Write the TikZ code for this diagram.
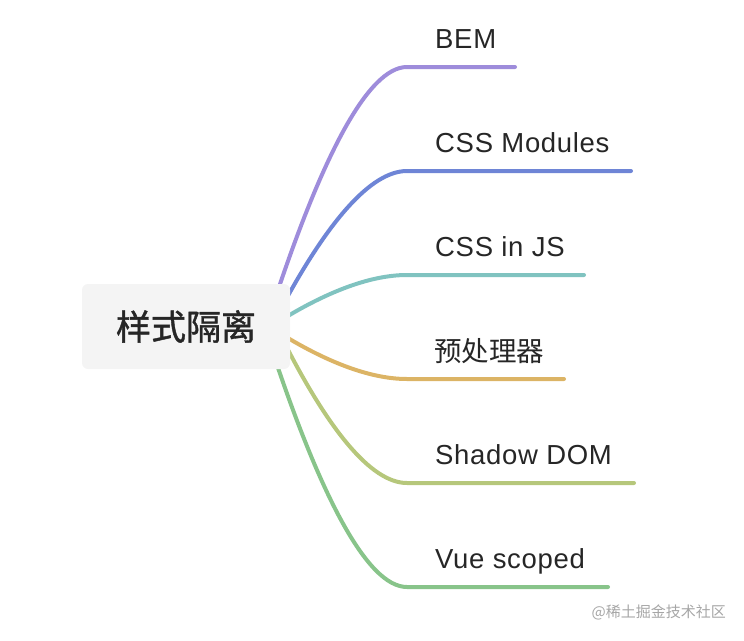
\documentclass[tikz,border=0pt]{standalone}
\usepackage{fontspec}
\setmainfont{Liberation Sans}[LetterSpace=2.5]
\newfontfamily\cjk{Noto Sans CJK SC}
\newfontfamily\cjkm{Noto Sans CJK SC}[FakeBold=1.2]
\usetikzlibrary{calc,backgrounds}
\definecolor{cPurple}{HTML}{9E8CDB}
\definecolor{cBlue}{HTML}{6E85D6}
\definecolor{cTeal}{HTML}{80C3C0}
\definecolor{cOrange}{HTML}{DCB465}
\definecolor{cOlive}{HTML}{B6C77B}
\definecolor{cGreen}{HTML}{88C48A}
\definecolor{txt}{HTML}{262626}
\definecolor{rootfill}{HTML}{F4F4F4}
\tikzset{
  branch/.style={line width=4pt, line cap=round},
  lab/.style={inner sep=0pt, text=txt, font=\fontsize{27.5}{33}\selectfont, anchor=base west},
  cjklab/.style={inner sep=0pt, text=txt, font=\cjk\fontsize{27.5}{33}\selectfont, anchor=west},
  rootbox/.style={fill=rootfill, rounded corners=6pt, minimum width=208pt, minimum height=85pt, inner sep=0pt, text=txt, font=\cjkm\fontsize{35}{40}\selectfont},
}
\begin{document}
\begin{tikzpicture}[x=1pt,y=-1pt]
\useasboundingbox (0,0) rectangle (744,640);
\node[rootbox] (root) at (186,326.5) {样式隔离};
\begin{pgfonlayer}{background}
\foreach \n/\sx/\sy/\ky/\ex/\col in {
  1/275/299/67/515/cPurple,
  2/284/303/171/631/cBlue,
  3/278/322/275/584/cTeal,
  4/278/332/379/564/cOrange,
  5/284/342/483/634/cOlive,
  6/272/350/587/608/cGreen}{
  \pgfmathsetmacro\dx{407-\sx}
  \pgfmathsetmacro\dy{\ky-\sy}
  \coordinate (s\n) at (\sx,\sy);
  \coordinate (k\n) at (407,\ky);
  \coordinate (e\n) at (\ex,\ky);
  \draw[branch,\col] (s\n) .. controls ($(s\n)+(0.35*\dx,0.6*\dy)$) and ($(k\n)+(-0.3*\dx,0)$) .. (k\n) -- (e\n);
}
\end{pgfonlayer}
\node[lab] (l1) at (435,48.5) {BEM};
\node[lab] (l2) at (435,152.5) {CSS Modules};
\node[lab] (l3) at (435,256.5) {CSS in JS};
\node[cjklab] (l4) at (434,351.5) {预处理器};
\node[lab] (l5) at (435,464.5) {Shadow DOM};
\node[lab] (l6) at (435,568.5) {Vue scoped};
\node[inner sep=0pt, anchor=east, text=black!35, font=\cjk\fontsize{15}{18}\selectfont] (wm) at (726,612) {@稀土掘金技术社区};
\end{tikzpicture}
\end{document}
